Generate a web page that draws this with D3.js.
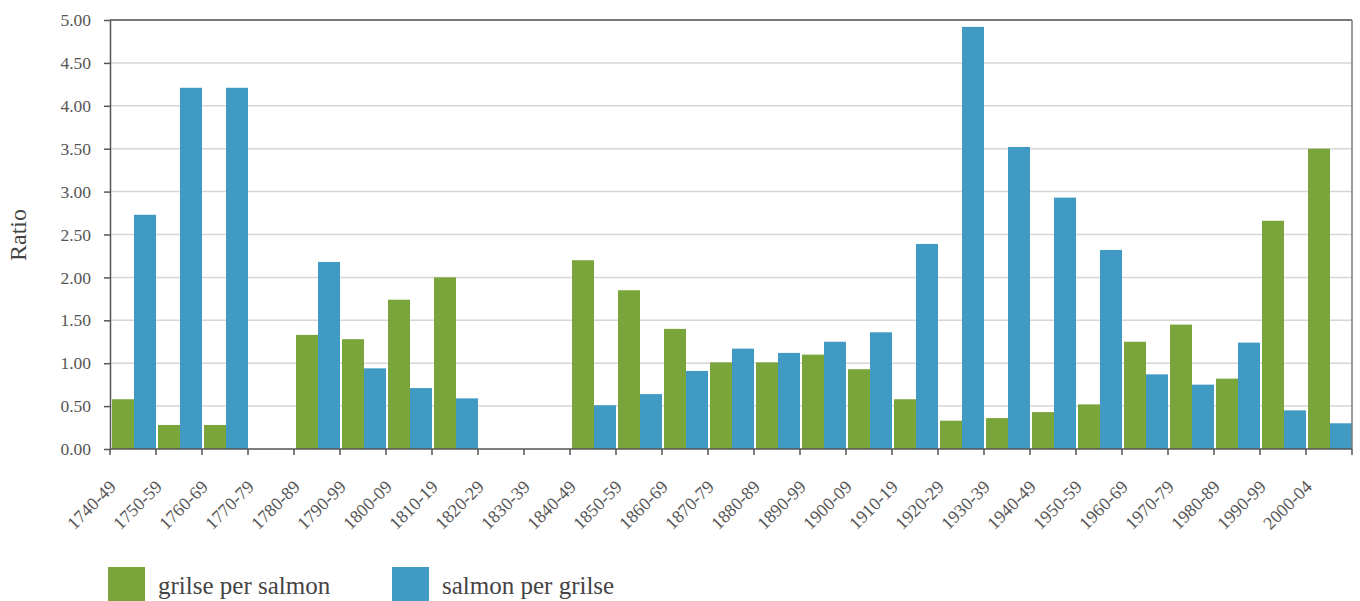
<!DOCTYPE html>
<html>
<head>
<meta charset="utf-8">
<script src="https://cdn.jsdelivr.net/npm/d3@7"></script>
<style>
    body { margin: 0; background: #fff; }
    svg { display: block; }
    text { font-family: "Liberation Serif", "Times New Roman", Times, "DejaVu Serif", serif; }
</style>
</head>
<body>
<script>
"use strict";
(function(){
    // decades on the x axis
    const decades = ["1740-49", "1750-59", "1760-69", "1770-79", "1780-89", "1790-99",
        "1800-09", "1810-19", "1820-29", "1830-39", "1840-49", "1850-59", "1860-69",
        "1870-79", "1880-89", "1890-99", "1900-09", "1910-19", "1920-29", "1930-39",
        "1940-49", "1950-59", "1960-69", "1970-79", "1980-89", "1990-99", "2000-04"]
    // null = no data for that decade
    const grilsePerSalmon = [0.58, 0.28, 0.28, null, 1.33, 1.28, 1.74, 2.00, null, null,
        2.20, 1.85, 1.40, 1.01, 1.01, 1.10, 0.93, 0.58, 0.33, 0.36, 0.43, 0.52,
        1.25, 1.45, 0.82, 2.66, 3.50]
    const salmonPerGrilse = [2.73, 4.21, 4.21, null, 2.18, 0.94, 0.71, 0.59, null, null,
        0.51, 0.64, 0.91, 1.17, 1.12, 1.25, 1.36, 2.39, 4.92, 3.52, 2.93, 2.32,
        0.87, 0.75, 1.24, 0.45, 0.30]
    const seriesNames = ["grilse per salmon", "salmon per grilse"]
    const seriesColors = ["#7aa53a", "#419ac3"]
    const yTicks = [0, 0.5, 1, 1.5, 2, 2.5, 3, 3.5, 4, 4.5, 5]

    const measurements = {
        width: 1360,
        height: 601,
        left: 110,
        right: 1352,
        top: 20,
        bottom: 449
    }
    const serif = "'Liberation Serif', 'Times New Roman', Times, 'DejaVu Serif', serif"

    const svg = d3.select("body").append("svg")
        .attr("width", measurements.width)
        .attr("height", measurements.height)

    // scales
    const x0 = d3.scaleBand()
        .domain(decades)
        .range([measurements.left, measurements.right])
        .padding(0)
    const x1 = d3.scaleBand()
        .domain(seriesNames)
        .range([2, x0.bandwidth()])
        .padding(0)
    const y = d3.scaleLinear()
        .domain([0, 5])
        .range([measurements.bottom, measurements.top])

    // grid lines
    svg.append("g")
        .selectAll("line")
        .data(yTicks.filter(d => d > 0 && d < 5))
        .enter()
        .append("line")
            .attr("x1", measurements.left)
            .attr("x2", measurements.right)
            .attr("y1", d => y(d))
            .attr("y2", d => y(d))
            .style("stroke", "#d6d6d6")
            .style("stroke-width", 1.5)

    // bars
    const rows = decades.map((d, i) => ({
        decade: d,
        values: [grilsePerSalmon[i], salmonPerGrilse[i]]
    }))
    const groups = svg.append("g")
        .selectAll("g")
        .data(rows)
        .enter()
        .append("g")
            .attr("transform", d => "translate(" + x0(d.decade) + ",0)")
    groups.selectAll("rect")
        .data(d => d.values.map((v, k) => ({ name: seriesNames[k], value: v, k: k })).filter(e => e.value !== null))
        .enter()
        .append("rect")
            .attr("x", d => x1(d.name))
            .attr("y", d => y(d.value))
            .attr("width", x1.bandwidth())
            .attr("height", d => y(0) - y(d.value))
            .style("fill", d => seriesColors[d.k])

    // frame: top and right border
    svg.append("line")
        .attr("x1", measurements.left).attr("x2", measurements.right)
        .attr("y1", y(5)).attr("y2", y(5))
        .style("stroke", "#4a4a4a").style("stroke-width", 1.5)
    svg.append("line")
        .attr("x1", measurements.right).attr("x2", measurements.right)
        .attr("y1", y(5)).attr("y2", y(0))
        .style("stroke", "#7a7a7a").style("stroke-width", 1.5)

    // y axis
    const yAxis = d3.axisLeft(y)
        .tickValues(yTicks)
        .tickFormat(d3.format(".2f"))
        .tickSize(6)
        .tickSizeOuter(0)
        .tickPadding(13)
    const gy = svg.append("g")
        .attr("transform", "translate(" + measurements.left + ",0)")
        .call(yAxis)
    gy.select(".domain").style("stroke", "#555").style("stroke-width", 1.5)
    gy.selectAll(".tick line").style("stroke", "#555").style("stroke-width", 1.5)
    gy.selectAll(".tick text")
        .style("font-family", serif)
        .style("font-size", "17.5px")
        .style("fill", "#555")

    // x axis: line, ticks at band edges, rotated labels
    const gx = svg.append("g")
    gx.append("line")
        .attr("x1", measurements.left).attr("x2", measurements.right)
        .attr("y1", y(0)).attr("y2", y(0))
        .style("stroke", "#555").style("stroke-width", 1.5)
    gx.selectAll(".xtick")
        .data(decades.concat(["end"]))
        .enter()
        .append("line")
            .attr("class", "xtick")
            .attr("x1", d => d === "end" ? measurements.right : x0(d))
            .attr("x2", d => d === "end" ? measurements.right : x0(d))
            .attr("y1", y(0))
            .attr("y2", y(0) + 6)
            .style("stroke", "#555").style("stroke-width", 1.5)
    gx.selectAll(".xlabel")
        .data(decades)
        .enter()
        .append("text")
            .attr("class", "xlabel")
            .attr("transform", d => "translate(" + (x0(d) + 7) + "," + (y(0) + 39) + ")rotate(-45)")
            .attr("text-anchor", "end")
            .style("font-family", serif)
            .style("font-size", "18px")
            .style("fill", "#555")
            .text(d => d)

    // y axis title
    svg.append("text")
        .attr("transform", "translate(26, 235)rotate(-90)")
        .attr("text-anchor", "middle")
        .style("font-family", serif)
        .style("font-size", "24px")
        .style("fill", "#444")
        .text("Ratio")

    // legend
    const legendX = [108, 392]
    const legend = svg.append("g")
        .selectAll("g")
        .data(seriesNames)
        .enter()
        .append("g")
            .attr("transform", (d, i) => "translate(" + legendX[i] + ",567)")
    legend.append("rect")
        .attr("width", 37)
        .attr("height", 40)
        .style("fill", (d, i) => seriesColors[i])
    legend.append("text")
        .attr("x", 50)
        .attr("y", 27)
        .style("font-family", serif)
        .style("font-size", "25px")
        .style("fill", "#444")
        .text(d => d)
})()
</script>
</body>
</html>
